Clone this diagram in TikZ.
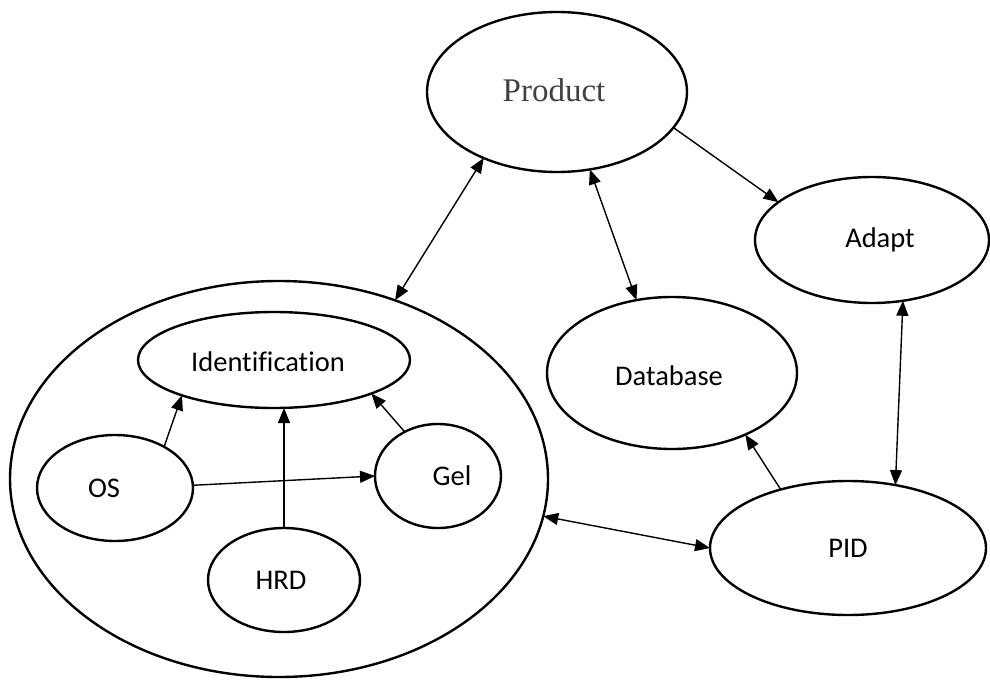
\documentclass[tikz,border=0pt]{standalone}
\usepackage{fontspec}
\setmainfont{Carlito}[Ligatures=NoCommon]
\newfontfamily\prodfont{Liberation Serif}
\usetikzlibrary{shapes.geometric,arrows.meta}
\begin{document}
\begin{tikzpicture}[x=1pt,y=-1pt,
  oval/.style={ellipse,draw,line width=2.4pt,inner sep=0pt,outer sep=0pt},
  lbl/.style={font=\fontsize{28.5}{34}\selectfont},
  tipA/.tip={Triangle[length=15pt,width=12pt]},
  link/.style={line width=1.4pt,-tipA},
  both/.style={line width=1.4pt,tipA-tipA}]
\useasboundingbox (0,0) rectangle (990,680);

% outer group and its members
\node[oval,minimum width=538pt,minimum height=396pt] (big) at (279,479) {};
\node[oval,minimum width=272pt,minimum height=96pt,
  label={[lbl,xshift=-6pt,yshift=-2pt]center:Identification}] (ident) at (274,360) {};
\node[oval,minimum width=156pt,minimum height=106pt,
  label={[lbl,xshift=-11pt]center:OS}] (os) at (115,488) {};
\node[oval,minimum width=126pt,minimum height=104pt,
  label={[lbl,xshift=14pt]center:Gel}] (gel) at (438,476) {};
\node[oval,minimum width=152pt,minimum height=104pt,
  label={[lbl,xshift=-3pt]center:HRD}] (hrd) at (284,580) {};

% other entities
\node[oval,minimum width=260pt,minimum height=160pt,
  label={[font=\prodfont\fontsize{33}{40}\selectfont,text=black!75,xshift=-3pt,yshift=2pt]center:Product}] (product) at (557,92) {};
\node[oval,minimum width=234pt,minimum height=126pt,
  label={[lbl,xshift=8pt]center:Adapt}] (adapt) at (872,240) {};
\node[oval,minimum width=250pt,minimum height=152pt,
  label={[lbl,xshift=-3pt,yshift=-3pt]center:Database}] (db) at (672,373) {};
\node[oval,minimum width=276pt,minimum height=134pt,
  label={[lbl]center:PID}] (pid) at (848,548) {};

% connectors
\draw[both] (product.222) -- (big.57);
\draw[both] (product.293) -- (db.116);
\draw[link] (product.343) -- (adapt.158);
\draw[both] (adapt.297) -- (pid.53);
\draw[link] (pid.139) -- (db.320);
\draw[both] (big.352) -- (pid.180);
\draw[link] (os.40) -- (ident.201);
\draw[link] (os.2) -- (gel.180);
\draw[link] (hrd.north) -- (hrd.north |- ident.south);
\draw[link] (gel.127) -- (ident.341);
\end{tikzpicture}
\end{document}
